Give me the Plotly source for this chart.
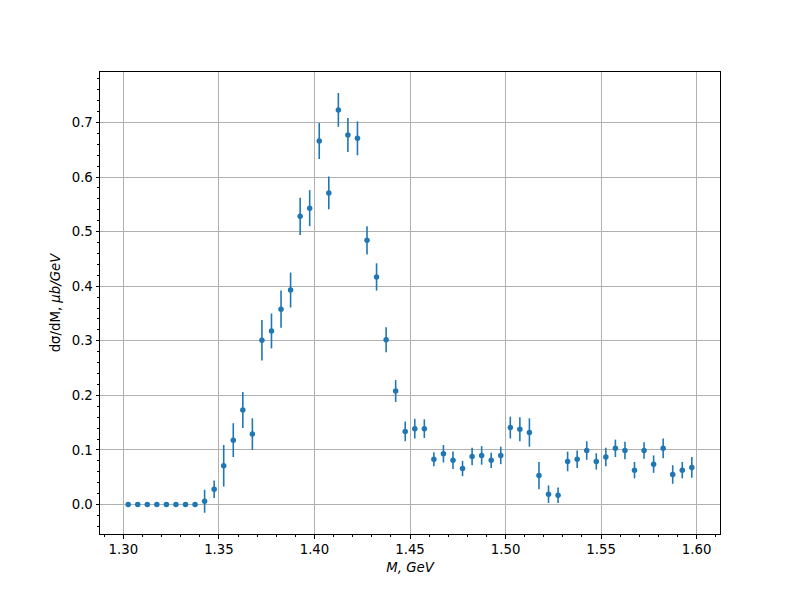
import plotly.graph_objects as go

mass = [1.3025 + 0.005 * i for i in range(60)]
xsec = [0, 0, 0, 0, 0, 0, 0, 0,
        0.006, 0.028, 0.071, 0.118, 0.173, 0.129, 0.301, 0.318, 0.358, 0.393,
        0.528, 0.543, 0.666, 0.571, 0.723, 0.677, 0.671, 0.484, 0.417, 0.302,
        0.208, 0.134, 0.139, 0.139, 0.083, 0.093, 0.081, 0.066, 0.088, 0.090,
        0.081, 0.090, 0.141, 0.138, 0.132, 0.053, 0.019, 0.017, 0.079, 0.083,
        0.099, 0.079, 0.087, 0.103, 0.099, 0.063, 0.099, 0.074, 0.103, 0.055,
        0.063, 0.068]
err = [0, 0, 0, 0, 0, 0, 0, 0,
       0.021, 0.016, 0.038, 0.031, 0.033, 0.029, 0.037, 0.032, 0.034, 0.032,
       0.034, 0.033, 0.033, 0.030, 0.031, 0.031, 0.031, 0.026, 0.025, 0.023,
       0.020, 0.018, 0.018, 0.017, 0.013, 0.016, 0.016, 0.014, 0.016, 0.017,
       0.014, 0.016, 0.020, 0.022, 0.026, 0.025, 0.016, 0.014, 0.018, 0.016,
       0.017, 0.015, 0.017, 0.016, 0.016, 0.015, 0.015, 0.016, 0.018, 0.017,
       0.015, 0.019]

color = "#1f77b4"
font = "DejaVu Sans"

fig = go.Figure()
fig.add_trace(go.Scatter(
    x=mass, y=xsec, mode="markers",
    marker=dict(color=color, size=5.5, line=dict(width=0)),
    error_y=dict(type="data", array=err, visible=True, color=color,
                 thickness=1.6, width=0),
    showlegend=False,
))

axis_common = dict(
    showline=True, linecolor="black", linewidth=1, mirror=True,
    ticks="outside", ticklen=3.5, tickwidth=0.8, tickcolor="black",
    showgrid=True, gridcolor="#b0b0b0", gridwidth=0.8,
    zeroline=False,
    tickfont=dict(family=font, size=13.3, color="black"),
)

fig.update_xaxes(
    range=[1.28775, 1.61225], tick0=1.30, dtick=0.05, tickformat=".2f",
    minor=dict(ticks="outside", ticklen=2, tickwidth=0.6, tickcolor="black",
               dtick=0.01, tick0=1.30, showgrid=False),
    title=dict(text="<i>M, GeV</i>", font=dict(family=font, size=13.3, color="black"),
               standoff=6),
    **axis_common,
)
fig.update_yaxes(
    range=[-0.054, 0.7925], tick0=0, dtick=0.1, tickformat=".1f",
    minor=dict(ticks="outside", ticklen=2, tickwidth=0.6, tickcolor="black",
               dtick=0.02, tick0=0, showgrid=False),
    title=dict(text="dσ/dM, <i>μb/GeV</i>", font=dict(family=font, size=13.3, color="black"),
               standoff=8),
    **axis_common,
)

fig.update_layout(
    width=792, height=592,
    margin=dict(l=92, r=80, t=64, b=66, pad=0, autoexpand=False),
    plot_bgcolor="white", paper_bgcolor="white",
    font=dict(family=font, size=13.3, color="black"),
)

fig.write_html("out.html")
